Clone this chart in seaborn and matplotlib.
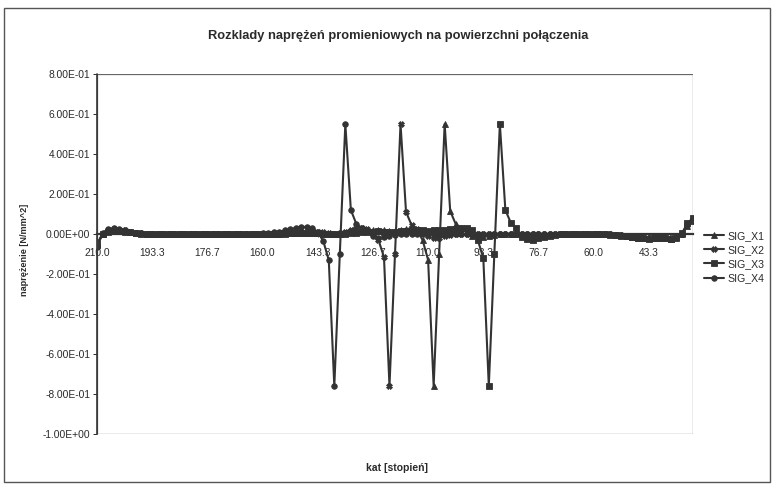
import numpy as np
import pandas as pd
import matplotlib
matplotlib.use("Agg")
import matplotlib.pyplot as plt
from matplotlib.patches import Rectangle
from matplotlib.ticker import FuncFormatter
import seaborn as sns

# ---------------- data ----------------
title = "Rozklady naprężeń promieniowych na powierzchni połączenia"
x_label = "kat [stopień]"
y_label = "naprężenie [N/mm^2]"
series_names = ["SIG_X1", "SIG_X2", "SIG_X3", "SIG_X4"]

# category axis: angle from 210.0 down to 30.0 deg, 109 categories
angles = np.round(np.linspace(210.0, 30.0, 109), 2)
xtick_labels = ["210.0", "193.3", "176.7", "160.0", "143.3", "126.7",
                "110.0", "93.3", "76.7", "60.0", "43.3"]
ytick_values = [0.8, 0.6, 0.4, 0.2, 0.0, -0.2, -0.4, -0.6, -0.8, -1.0]

sig_x1 = [
    -0.055, 0.000, 0.015, 0.020, 0.018, 0.014, 0.010, 0.006, 0.003, 0.001,
    0.000, 0.000, 0.001, 0.000, -0.001, 0.000, 0.000, 0.001, 0.000, -0.001,
    0.000, 0.000, 0.001, 0.000, 0.000, -0.001, 0.000, 0.000, 0.001, 0.000,
    0.000, 0.000, 0.001, 0.002, 0.003, 0.004, 0.005, 0.006, 0.007, 0.006,
    0.004, 0.002, 0.000, -0.002, 0.000, 0.004, 0.008, 0.012, 0.015, 0.018,
    0.020, 0.022, 0.020, 0.014, 0.016, 0.020, 0.025, 0.028, 0.020, -0.030,
    -0.130, -0.760, -0.100, 0.550, 0.115, 0.050, 0.028, 0.012, -0.010, -0.020,
    -0.016, -0.010, -0.005, -0.002, 0.000, 0.001, 0.000, 0.000, -0.001, 0.000,
    0.001, 0.000, 0.000, -0.001, 0.000, 0.000, 0.001, 0.000, 0.000, -0.001,
    0.000, 0.000, -0.001, -0.002, -0.004, -0.007, -0.011, -0.015, -0.018, -0.020,
    -0.021, -0.020, -0.018, -0.020, -0.024, -0.016, 0.002, 0.040, 0.065,
]
sig_x2 = [
    -0.060, 0.002, 0.020, 0.024, 0.022, 0.018, 0.012, 0.007, 0.004, 0.002,
    0.001, 0.000, 0.000, -0.001, 0.000, 0.001, 0.000, 0.000, -0.001, 0.000,
    0.001, 0.000, 0.000, -0.001, 0.000, 0.000, 0.001, 0.000, 0.000, -0.001,
    0.000, 0.001, 0.002, 0.003, 0.004, 0.006, 0.008, 0.010, 0.012, 0.014,
    0.012, 0.008, 0.004, 0.002, 0.006, 0.012, 0.022, 0.030, 0.032, 0.025,
    0.008, -0.030, -0.115, -0.760, -0.100, 0.550, 0.110, 0.045, 0.025, 0.010,
    -0.012, -0.022, -0.018, -0.010, -0.005, -0.002, 0.000, 0.001, 0.000, 0.000,
    -0.001, 0.000, 0.001, 0.000, 0.000, -0.001, 0.000, 0.000, 0.001, 0.000,
    0.000, -0.001, 0.000, 0.000, 0.001, 0.000, 0.000, -0.001, 0.000, 0.000,
    0.000, 0.001, 0.000, -0.001, -0.003, -0.006, -0.010, -0.014, -0.017, -0.019,
    -0.020, -0.019, -0.017, -0.019, -0.022, -0.014, 0.002, 0.045, 0.070,
]
sig_x3 = [
    -0.050, 0.001, 0.012, 0.016, 0.015, 0.012, 0.008, 0.005, 0.002, 0.001,
    0.000, -0.001, 0.000, 0.000, 0.001, 0.000, 0.000, -0.001, 0.000, 0.001,
    0.000, 0.000, -0.001, 0.000, 0.000, 0.001, 0.000, 0.000, -0.001, 0.000,
    0.000, 0.001, 0.001, 0.002, 0.002, 0.003, 0.004, 0.004, 0.005, 0.004,
    0.003, 0.001, 0.000, -0.001, 0.000, 0.002, 0.004, 0.006, 0.008, 0.010,
    0.012, 0.013, 0.012, 0.010, 0.011, 0.013, 0.016, 0.018, 0.020, 0.018,
    0.016, 0.018, 0.020, 0.022, 0.024, 0.026, 0.030, 0.032, 0.022, -0.030,
    -0.120, -0.760, -0.100, 0.550, 0.120, 0.055, 0.030, -0.015, -0.025, -0.028,
    -0.022, -0.015, -0.008, -0.004, -0.002, 0.000, 0.001, 0.000, 0.000, -0.001,
    0.000, 0.000, -0.001, -0.003, -0.005, -0.008, -0.012, -0.016, -0.019, -0.022,
    -0.023, -0.022, -0.020, -0.022, -0.026, -0.018, 0.003, 0.055, 0.080,
]
sig_x4 = [
    -0.065, 0.004, 0.026, 0.028, 0.024, 0.020, 0.012, 0.006, 0.003, 0.002,
    0.001, 0.000, -0.001, 0.000, 0.001, 0.000, -0.001, 0.000, 0.001, 0.000,
    0.000, -0.001, 0.000, 0.001, 0.000, 0.000, -0.001, 0.000, 0.001, 0.002,
    0.003, 0.005, 0.008, 0.012, 0.018, 0.024, 0.030, 0.034, 0.036, 0.030,
    0.010, -0.035, -0.130, -0.760, -0.100, 0.550, 0.120, 0.050, 0.030, 0.015,
    -0.010, -0.020, -0.015, -0.008, -0.004, -0.002, 0.000, 0.001, 0.001, 0.000,
    0.000, -0.001, 0.000, 0.001, 0.000, 0.000, -0.001, 0.000, 0.001, 0.000,
    0.000, -0.001, 0.000, 0.000, 0.001, 0.000, -0.001, 0.000, 0.000, 0.001,
    0.000, 0.000, -0.001, 0.000, 0.001, 0.000, 0.000, -0.001, 0.000, 0.000,
    0.001, 0.000, -0.001, -0.002, -0.004, -0.006, -0.010, -0.014, -0.016, -0.018,
    -0.018, -0.017, -0.016, -0.018, -0.020, -0.015, 0.000, 0.050, 0.075,
]

frames = []
for name, vals in zip(series_names, [sig_x1, sig_x2, sig_x3, sig_x4]):
    frames.append(pd.DataFrame({"kat": angles, "value": vals, "series": name}))
df = pd.concat(frames, ignore_index=True)

# ---------------- style ----------------
sns.set_style("white")
plt.rcParams["font.family"] = ["Liberation Sans", "DejaVu Sans"]
txt = "#2a2a2a"
line_c = "#333333"

fig = plt.figure(figsize=(7.75, 4.86), dpi=100)
ax = fig.add_axes([97 / 775, 1 - 434 / 486, (693 - 97) / 775, (434 - 74) / 486])

markers = {"SIG_X1": "^", "SIG_X2": "X", "SIG_X3": "s", "SIG_X4": "o"}
palette = {n: line_c for n in series_names}
sns.lineplot(data=df, x="kat", y="value", hue="series", style="series",
             markers=markers, dashes=False, palette=palette, sort=False,
             linewidth=1.5, markersize=4.0, markeredgewidth=0.6,
             markeredgecolor=line_c, ax=ax, legend=True)

ax.set_xlim(210.0, 30.0)
ax.set_ylim(-1.0, 0.8)
ax.set_yticks(ytick_values)
ax.yaxis.set_major_formatter(FuncFormatter(lambda v, p: f"{v:.2E}"))
ax.set_xticks(angles[::10], labels=xtick_labels)

for s in ["top", "right", "left"]:
    ax.spines[s].set_visible(False)
ax.spines["bottom"].set_position(("data", 0))
ax.spines["bottom"].set_color(line_c)
ax.spines["bottom"].set_linewidth(1.6)
ax.add_patch(Rectangle((0, 0), 1, 1, transform=ax.transAxes, fill=False,
                       edgecolor="#666666", linewidth=0.9, zorder=5))
ax.plot([0, 0], [0, 1], transform=ax.transAxes, color="#333333",
        linewidth=1.2, zorder=6, clip_on=False)

ax.tick_params(axis="y", direction="out", length=3, width=0.7, colors=txt,
               labelsize=7.4, pad=2, left=True)
ax.tick_params(axis="x", direction="out", length=2, width=0.6, colors=txt,
               labelsize=7.4, pad=8, bottom=True)
ax.set_xlabel("")
ax.set_ylabel("")

handles, labels = ax.get_legend_handles_labels()
ax.legend(handles, labels, loc="center left",
          bbox_to_anchor=(694 / 775, 1 - 257 / 486), bbox_transform=fig.transFigure,
          frameon=False, fontsize=7.6, handlelength=1.9, handletextpad=0.4,
          labelspacing=0.4, labelcolor=txt)

fig.text(398 / 775, 1 - 36 / 486, title, ha="center", va="center",
         fontsize=9.3, fontweight="bold", color=txt)
fig.text(397 / 775, 1 - 468 / 486, x_label, ha="center", va="center",
         fontsize=7.5, fontweight="bold", color=txt)
fig.text(25 / 775, 1 - 250 / 486, y_label, ha="center", va="center",
         rotation=90, fontsize=6.6, fontweight="bold", color=txt)

fig.add_artist(Rectangle((4 / 775, 1 - 482 / 486), 766 / 775, 474 / 486,
                         transform=fig.transFigure, fill=False,
                         edgecolor="#555555", linewidth=1.0))

fig.savefig("out.png", dpi=100, facecolor="white")
